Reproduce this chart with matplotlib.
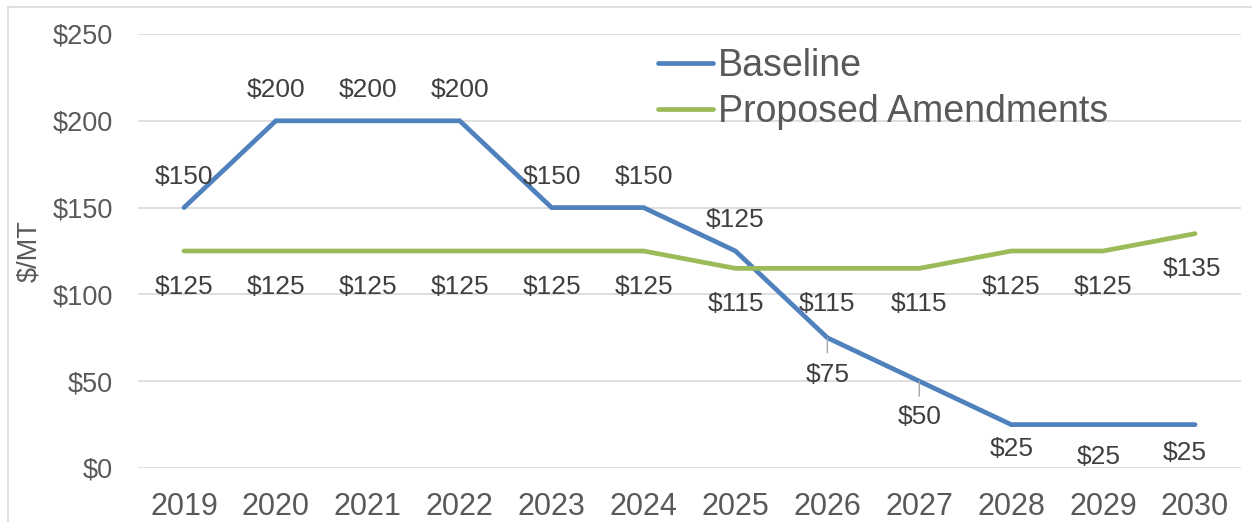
import matplotlib
matplotlib.use("Agg")
import matplotlib.pyplot as plt
from matplotlib.patches import Rectangle

plt.rcParams['font.family'] = ['Liberation Sans', 'DejaVu Sans']

years = ['2019', '2020', '2021', '2022', '2023', '2024', '2025', '2026', '2027', '2028', '2029', '2030']
baseline = [150, 200, 200, 200, 150, 150, 125, 75, 50, 25, 25, 25]
proposed = [125, 125, 125, 125, 125, 125, 115, 115, 115, 125, 125, 135]
yticks = [0, 50, 100, 150, 200, 250]
ytick_labels = ['$0', '$50', '$100', '$150', '$200', '$250']

# label offsets in pixels (dx, dy)
base_off = [(0, 31)] * 7 + [(0, -37), (0, -36), (0, -24), (-4, -32), (-10, -28)]
prop_off = [(0, -36)] * 11 + [(-3, -35)]

BLUE = '#4F81BD'
GREEN = '#9BBB59'
TXT = '#595959'
LBL = '#404040'
GRID = '#D9D9D9'

W, H = 1252, 522
fig = plt.figure(figsize=(W / 100, H / 100), dpi=100)
fig.patches.append(Rectangle((8 / W, -0.1), 1.2, 1 - 7 / H + 0.1, transform=fig.transFigure,
                             fill=False, edgecolor=GRID, linewidth=1.2))

ax = fig.add_axes([138 / W, 54 / H, 1103 / W, 434 / H])
x = list(range(len(years)))
ax.plot(x, baseline, color=BLUE, lw=3.4, solid_capstyle='round', solid_joinstyle='miter', label='Baseline', zorder=3)
ax.plot(x, proposed, color=GREEN, lw=3.4, solid_capstyle='round', solid_joinstyle='miter', label='Proposed Amendments', zorder=3)

ax.set_xlim(-0.5, len(years) - 0.5)
ax.set_ylim(0, 250)
ax.set_yticks(yticks)
ax.set_yticklabels(ytick_labels)
ax.set_xticks(x)
ax.set_xticklabels(years)
ax.grid(axis='y', color=GRID, lw=1.2)
ax.set_axisbelow(True)
for s in ax.spines.values():
    s.set_visible(False)
ax.tick_params(axis='y', length=0, pad=18, labelsize=19.5, labelcolor=TXT)
ax.tick_params(axis='x', length=0, pad=17, labelsize=22, labelcolor=TXT)

for i, v in enumerate(baseline):
    dx, dy = base_off[i]
    ax.annotate(f'${v}', (i, v), xytext=(dx, dy), textcoords='offset pixels',
                ha='center', va='center', fontsize=19, color=LBL, zorder=4)
    if i in (7, 8):
        ax.annotate('', (i, v), xytext=(dx * 0.3, -15), textcoords='offset pixels',
                    arrowprops=dict(arrowstyle='-', color='#A6A6A6', lw=1, shrinkA=0, shrinkB=0))
for i, v in enumerate(proposed):
    dx, dy = prop_off[i]
    ax.annotate(f'${v}', (i, v), xytext=(dx, dy), textcoords='offset pixels',
                ha='center', va='center', fontsize=19, color=LBL, zorder=4)

fig.text(29 / W, 1 - 251 / H, '$/MT', rotation=90, ha='center', va='center', fontsize=19.5, color=TXT)

leg = ax.legend(loc='upper left', bbox_to_anchor=(658 / W, 1 - 48 / H), bbox_transform=fig.transFigure,
                frameon=False, fontsize=27, handlelength=1.47, handletextpad=0.13,
                labelspacing=0.27, borderpad=0, borderaxespad=0)
for t in leg.get_texts():
    t.set_color(TXT)

fig.savefig('out.png', dpi=100)
